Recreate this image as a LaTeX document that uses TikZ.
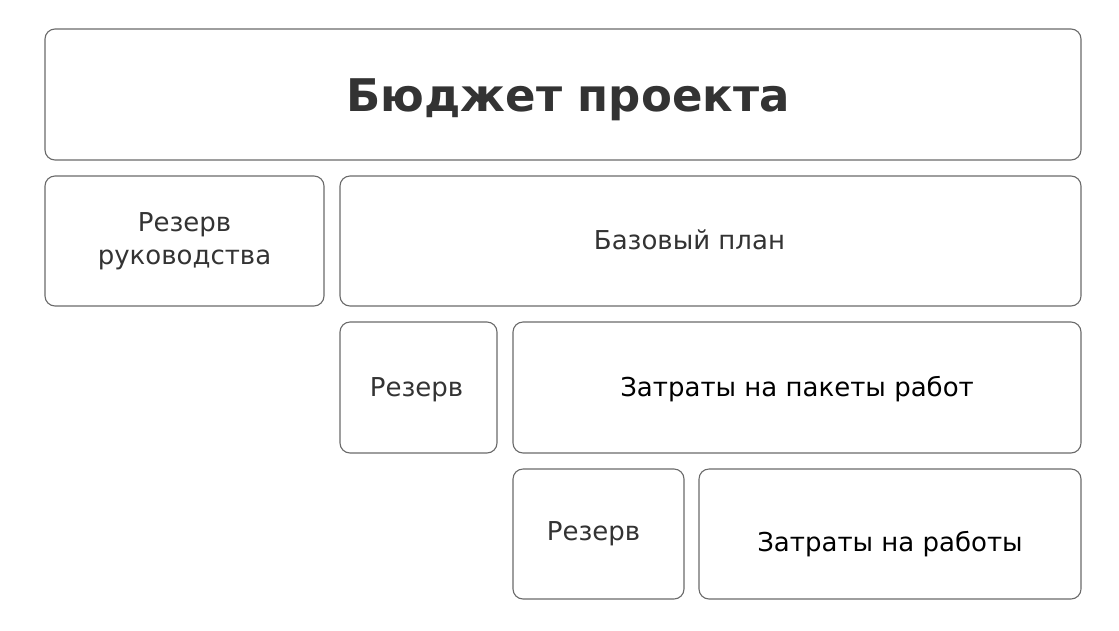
\documentclass[tikz,border=0pt]{standalone}
\usepackage{fontspec}
\setmainfont{DejaVu Sans}
\definecolor{edge}{HTML}{6A6A6A}
\definecolor{txt}{HTML}{333333}
% shift the ink of a label by (#1 right, #2 down) without changing the node size
\newcommand{\nudge}[3]{\raisebox{-#2}[\height][\depth]{\kern#1 #3\kern-#1}}
\tikzset{
  card/.style={draw=edge, line width=1.1pt, rounded corners=10pt, anchor=north west,
    inner sep=0pt, outer sep=0pt, align=center, font=\fontsize{26}{33}\selectfont, text=txt},
  cost/.style={card, text=black},
}
\begin{document}
\begin{tikzpicture}[x=1pt,y=-1pt]
\useasboundingbox (0,0) rectangle (1119,630);
\node[card, minimum width=1036pt, minimum height=131pt, font=\fontsize{45}{50}\selectfont\bfseries] (budget) at (45,29) {\nudge{5pt}{5pt}{Бюджет проекта}};
\node[card, minimum width=279pt, minimum height=130pt] (mres) at (45,176) {Резерв\\руководства};
\node[card, minimum width=741pt, minimum height=130pt] (base) at (340,176) {\nudge{-21pt}{-1pt}{Базовый план}};
\node[card, minimum width=157pt, minimum height=131pt] (res1) at (340,322) {\nudge{-2pt}{2pt}{Резерв}};
\node[cost, minimum width=568pt, minimum height=131pt] (wp) at (513,322) {\nudge{0pt}{2pt}{Затраты на пакеты работ}};
\node[card, minimum width=171pt, minimum height=130pt] (res2) at (513,469) {\nudge{-5pt}{0pt}{Резерв}};
\node[cost, minimum width=382pt, minimum height=130pt] (work) at (699,469) {\nudge{0pt}{10pt}{Затраты на работы}};
\end{tikzpicture}
\end{document}
